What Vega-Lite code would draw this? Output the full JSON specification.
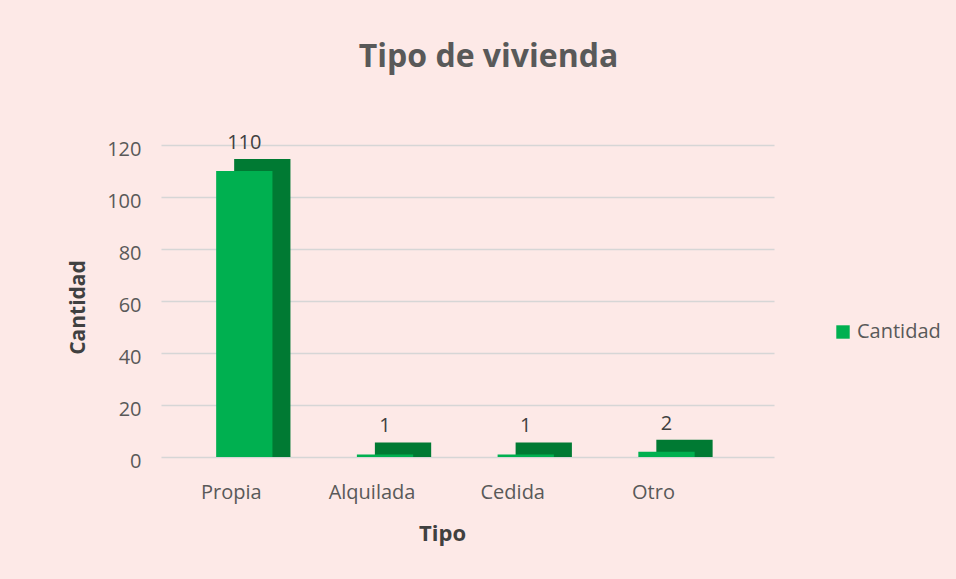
{
  "$schema": "https://vega.github.io/schema/vega-lite/v6.json",
  "width": 613,
  "height": 312,
  "autosize": "none",
  "padding": {"left": 161, "top": 145, "right": 182, "bottom": 122},
  "background": "#fde9e7",
  "config": {
    "view": {"stroke": null},
    "font": "Open Sans"
  },
  "title": {
    "text": "Tipo de vivienda",
    "fontSize": 32,
    "fontWeight": "bold",
    "color": "#595959",
    "font": "Open Sans",
    "anchor": "middle",
    "dx": 21,
    "offset": 59
  },
  "data": {
    "values": [
      {"Tipo": "Propia", "Cantidad": 110, "Serie": "Cantidad"},
      {"Tipo": "Alquilada", "Cantidad": 1, "Serie": "Cantidad"},
      {"Tipo": "Cedida", "Cantidad": 1, "Serie": "Cantidad"},
      {"Tipo": "Otro", "Cantidad": 2, "Serie": "Cantidad"}
    ]
  },
  "encoding": {
    "x": {
      "field": "Tipo",
      "type": "nominal",
      "sort": ["Propia", "Alquilada", "Cedida", "Otro"],
      "scale": {"paddingInner": 0.6, "paddingOuter": 0.478, "align": 0.41},
      "axis": {
        "labelAngle": 0,
        "ticks": false,
        "domain": false,
        "labelFontSize": 20,
        "labelColor": "#595959",
        "labelPadding": 25,
        "labelOffset": -13,
        "title": "Tipo",
        "titleFontSize": 22,
        "titleFontWeight": "bold",
        "titleColor": "#404040",
        "titlePadding": 21,
        "titleX": 281
      }
    },
    "y": {
      "field": "Cantidad",
      "type": "quantitative",
      "scale": {"domain": [0, 120]},
      "axis": {
        "values": [0, 20, 40, 60, 80, 100, 120],
        "ticks": false,
        "domain": false,
        "labelFontSize": 20,
        "labelColor": "#595959",
        "labelPadding": 20,
        "labelOffset": 4,
        "gridColor": "#d6d6d6",
        "gridWidth": 1.5,
        "title": "Cantidad",
        "titleFontSize": 21,
        "titleFontWeight": "bold",
        "titleColor": "#404040",
        "titlePadding": 18,
        "titleY": 162
      }
    }
  },
  "layer": [
    {
      "mark": {"type": "bar", "color": "#007a33", "xOffset": 18, "yOffset": -12, "y2Offset": 0},
      "encoding": {"y2": {"datum": 0}}
    },
    {
      "mark": {"type": "bar"},
      "encoding": {
        "color": {
          "field": "Serie",
          "type": "nominal",
          "scale": {"range": ["#00b050"]},
          "legend": {
            "title": null,
            "orient": "none",
            "legendX": 672,
            "legendY": 177,
            "symbolType": "square",
            "symbolSize": 180,
            "symbolStrokeWidth": 0,
            "labelFontSize": 20,
            "labelColor": "#595959",
            "labelFont": "Open Sans"
          }
        }
      }
    },
    {
      "mark": {"type": "text", "dy": -28, "fontSize": 20, "color": "#404040", "font": "Open Sans"},
      "encoding": {"text": {"field": "Cantidad", "type": "quantitative"}}
    }
  ]
}
